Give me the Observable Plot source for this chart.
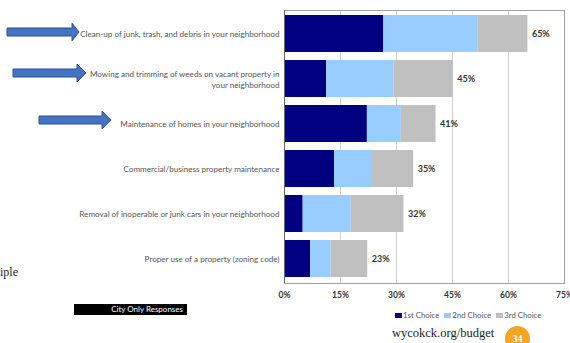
<!DOCTYPE html>
<html>
<head>
<meta charset="utf-8">
<script src="https://cdn.jsdelivr.net/npm/d3@7"></script>
<script src="https://cdn.jsdelivr.net/npm/@observablehq/plot@0.6"></script>
<style>
  html, body { margin: 0; padding: 0; background: #fff; }
  #wrap { position: relative; width: 570px; height: 343px; overflow: hidden; background: #fff; }
  #chart { position: absolute; left: 0; top: 0; }
  .abs { position: absolute; }
</style>
</head>
<body>
<div id="wrap">
  <div id="chart"></div>
  <svg class="abs" style="left:0;top:0" width="130" height="140">
    <polygon points="7,28 72,28 72,23 79,32 72,41 72,36 7,36" fill="#4472C4" stroke="#2F528F" stroke-width="1"/>
    <polygon points="13,69 77,69 77,64 86,73 77,82 77,77 13,77" fill="#4472C4" stroke="#2F528F" stroke-width="1"/>
    <polygon points="39,116 102,116 102,111 111,120 102,129 102,124 39,124" fill="#4472C4" stroke="#2F528F" stroke-width="1"/>
  </svg>
  <div class="abs" style="left:0;top:265px;font-family:'Liberation Serif',serif;font-size:12px;color:#222;">iple</div>
  <div class="abs" style="left:74px;top:304px;width:113px;height:11px;background:#000;color:#fff;font-family:Lato,sans-serif;font-size:8px;line-height:11px;text-align:right;box-sizing:border-box;padding-right:4px;">City Only Responses</div>
  <div id="legend" class="abs" style="left:395px;top:309px;font-family:Lato,sans-serif;font-size:7.8px;color:#555;white-space:nowrap;"></div>
  <div class="abs" style="left:392px;top:326px;font-family:'Liberation Serif',serif;font-size:12.5px;color:#222;">wycokck.org/budget</div>
  <div class="abs" style="left:505px;top:326px;width:25px;height:25px;border-radius:50%;background:#F4A523;color:#fff;font-family:'Liberation Serif',serif;font-weight:bold;font-size:10px;text-align:center;line-height:25px;">34</div>
</div>
<script>
const categories = [
  "Clean-up of junk, trash, and debris in your neighborhood",
  "Mowing and trimming of weeds on vacant property in\nyour neighborhood",
  "Maintenance of homes in your neighborhood",
  "Commercial/business property maintenance",
  "Removal of inoperable or junk cars in your neighborhood",
  "Proper use of a property (zoning code)"
];
const series = ["1st Choice", "2nd Choice", "3rd Choice"];
const first  = [26.6, 11.3, 22.2, 13.4, 5.0, 7.0];
const second = [25.3, 18.0, 9.1, 9.9, 12.9, 5.5];
const third  = [13.3, 15.9, 9.3, 11.3, 14.1, 9.8];
const totalLabels = ["65%", "45%", "41%", "35%", "32%", "23%"];
const xTicks = [0, 15, 30, 45, 60, 75];
const colors = ["#000080", "#99CCFF", "#C0C0C0"];

const rows = [];
const valuesBySeries = [first, second, third];
categories.forEach((c, i) => {
  series.forEach((s, j) => rows.push({cat: c, choice: s, value: valuesBySeries[j][i]}));
});
const totals = categories.map((c, i) => ({cat: c, total: first[i] + second[i] + third[i], label: totalLabels[i]}));

const chart = Plot.plot({
  width: 570,
  height: 305,
  marginLeft: 284,
  marginRight: 6,
  marginTop: 10,
  marginBottom: 22,
  style: {fontFamily: "Lato, sans-serif", background: "transparent"},
  x: {domain: [0, 75], ticks: xTicks},
  y: {domain: categories, paddingInner: 0.17, paddingOuter: 0.07},
  color: {domain: series, range: colors},
  marks: [
    Plot.gridX(xTicks.slice(1, -1), {stroke: "#cfcfcf", strokeOpacity: 1}),
    Plot.frame({stroke: "#a0a0a0"}),
    Plot.barX(rows, {x: "value", y: "cat", fill: "choice"}),
    Plot.ruleX([0], {stroke: "#666"}),
    Plot.text(totals, {x: "total", y: "cat", text: "label", textAnchor: "start", dx: 4, fontWeight: "bold", fontSize: 9, fill: "#333"}),
    Plot.axisX({ticks: xTicks, tickFormat: d => d + "%", tickSize: 0, tickPadding: 8, fontWeight: "bold", fontSize: 8.5, fill: "#333", label: null}),
    Plot.axisY({tickSize: 0, tickPadding: 5, fontSize: 8.1, lineHeight: 1.3, fill: "#555", label: null})
  ]
});
document.getElementById("chart").appendChild(chart);

const legend = document.getElementById("legend");
series.forEach((s, i) => {
  const sw = document.createElement("span");
  sw.style.cssText = `display:inline-block;width:7px;height:5px;background:${colors[i]};margin-right:1px;vertical-align:middle;`;
  const t = document.createElement("span");
  t.textContent = s;
  t.style.cssText = "vertical-align:middle;margin-right:5px;";
  legend.appendChild(sw);
  legend.appendChild(t);
});
</script>
</body>
</html>
